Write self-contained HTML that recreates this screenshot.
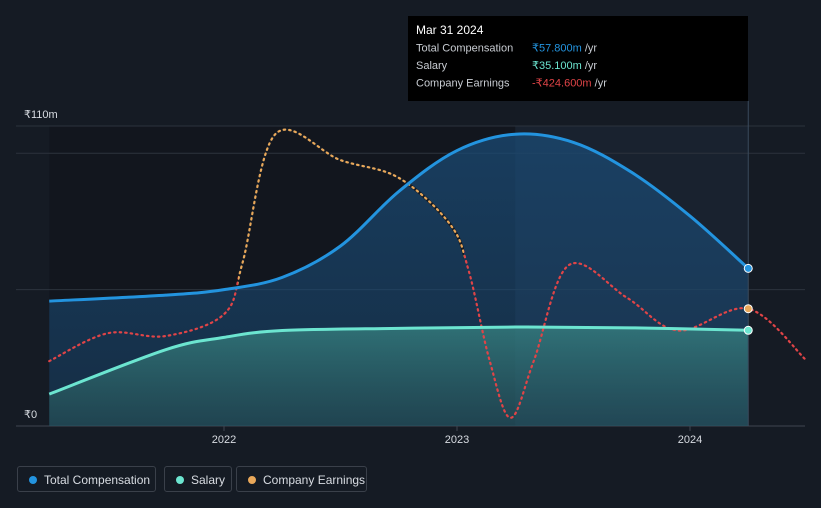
<!DOCTYPE html>
<html><head><meta charset="utf-8"><style>
body{margin:0;background:#151b24;font-family:"Liberation Sans",sans-serif;}
svg{display:block}
.leg{position:absolute;top:466px;height:26px;border:1px solid #3a404a;border-radius:3px;color:#d8dce2;font-size:12px;line-height:26px;box-sizing:border-box;padding-left:26px}
.leg i{position:absolute;left:11px;top:9px;width:8px;height:8px;border-radius:50%}
</style></head><body>
<div style="position:relative;width:821px;height:508px">
<svg id="c" width="821" height="508"></svg>
<div class="leg" style="left:17px;width:139px"><i style="background:#2394df"></i>Total Compensation</div>
<div class="leg" style="left:164px;width:68px"><i style="background:#6ce5d0"></i>Salary</div>
<div class="leg" style="left:236px;width:131px"><i style="background:#e9a85a"></i>Company Earnings</div>
</div>
<script>
const compT=[2021.25,2021.75,2022.0,2022.25,2022.5,2022.75,2023.0,2023.25,2023.5,2023.75,2024.0,2024.25];
const compV=[45.8,48,50,54.5,66,86,101,107,104,93,77,57.8];
const salT=[2021.25,2021.75,2022.0,2022.25,2022.75,2023.25,2023.75,2024.25];
const salV=[11.7,28,32.5,35,35.8,36.3,36,35.1];
const earnT=[2021.25,2021.5,2021.75,2022.0,2022.08,2022.22,2022.5,2022.75,2022.97,2023.05,2023.14,2023.23,2023.33,2023.48,2023.73,2023.95,2024.25,2024.5];
const earnV=[23.8,34,33,41,60,107,97.5,91,74,57,24,3,24,59,47,35,43,24];
const orangeRange=[2022.06,2023.03];
const yTicks=[0,110];const yTickLabels=["₹0","₹110m"];
const gridV=[0,50,100,110];
const xTicks=[2022,2023,2024];
const X=t=>224+(t-2022)*233, Y=v=>426-v*2.727;
const svg=document.getElementById('c'),NS='http://www.w3.org/2000/svg';
function el(n,a,p){const e=document.createElementNS(NS,n);for(const k in a)e.setAttribute(k,a[k]);(p||svg).appendChild(e);return e;}
function path(T,V){const P=T.map((t,i)=>[X(t),Y(V[i])]);let d='M'+P[0];for(let i=0;i<P.length-1;i++){const p0=P[i-1]||P[i],p1=P[i],p2=P[i+1],p3=P[i+2]||p2;const c1=[p1[0]+(p2[0]-p0[0])/6,p1[1]+(p2[1]-p0[1])/6],c2=[p2[0]-(p3[0]-p1[0])/6,p2[1]-(p3[1]-p1[1])/6];d+='C'+c1+' '+c2+' '+p2;}return d;}
const defs=el('defs',{});
defs.innerHTML='<linearGradient id="gc" x1="0" y1="0" x2="0" y2="1"><stop offset="0" stop-color="#1a4a74" stop-opacity=".75"/><stop offset="1" stop-color="#1a4a74" stop-opacity=".45"/></linearGradient><linearGradient id="gs" x1="0" y1="0" x2="0" y2="1"><stop offset="0" stop-color="#3a8a86" stop-opacity=".7"/><stop offset="1" stop-color="#2a5a5c" stop-opacity=".5"/></linearGradient><clipPath id="co"><rect x="'+X(orangeRange[0])+'" y="0" width="'+(X(orangeRange[1])-X(orangeRange[0]))+'" height="508"/></clipPath>';
el('rect',{x:X(2021.25),y:Y(110),width:X(2023.25)-X(2021.25),height:Y(0)-Y(110),fill:'#10141b',opacity:.6,});
el('rect',{x:X(2023.25),y:Y(110),width:X(2024.25)-X(2023.25),height:Y(0)-Y(110),fill:'#1d2a3a',opacity:.5,});
gridV.forEach(v=>{const g=el('line',{x1:16,x2:805,y1:Y(v),y2:Y(v),stroke:v==0?'#3e4550':'#2c333d','stroke-width':1});});
yTicks.forEach((v,i)=>{const t=el('text',{x:24,y:Y(v)-8,fill:'#d8dce2','font-size':11});t.textContent=yTickLabels[i];});
xTicks.forEach(v=>{el('line',{x1:X(v),x2:X(v),y1:426,y2:431,stroke:'#3e4550'});const t=el('text',{x:X(v),y:443,fill:'#d8dce2','font-size':11,'text-anchor':'middle'});t.textContent=v;});
const cp=path(compT,compV),sp=path(salT,salV),ep=path(earnT,earnV);
let a=el('path',{d:cp+'L'+X(2024.25)+','+Y(0)+'L'+X(2021.25)+','+Y(0)+'Z',fill:'url(#gc)'});
a=el('path',{d:sp+'L'+X(2024.25)+','+Y(0)+'L'+X(2021.25)+','+Y(0)+'Z',fill:'url(#gs)'});
let l=el('path',{d:ep,fill:'none',stroke:'#e04447','stroke-width':2.2,'stroke-dasharray':'1.5 4','stroke-linecap':'round'});
l=el('path',{d:ep,fill:'none',stroke:'#151b24','stroke-width':3,'clip-path':'url(#co)'});
l=el('path',{d:ep,fill:'none',stroke:'#e9a85a','stroke-width':2.2,'stroke-dasharray':'1.5 4','stroke-linecap':'round','clip-path':'url(#co)'});
l=el('path',{d:sp,fill:'none',stroke:'#6ce5d0','stroke-width':3});
l=el('path',{d:cp,fill:'none',stroke:'#2394df','stroke-width':3});
el('line',{x1:X(2024.25),x2:X(2024.25),y1:101,y2:426,stroke:'#3a4a5c'});
[[compV,'#2394df'],[salV,'#6ce5d0'],[[earnV[16]],'#e9a85a']].forEach(([v,c])=>{const d=el('circle',{cx:X(2024.25),cy:Y(v[v.length-1]),r:4,fill:c,stroke:'#fff','stroke-width':1});});
const g=el('g',{});
el('rect',{x:408,y:16,width:340,height:85,fill:'#000'},g);
const tt=[['Mar 31 2024','',''],['Total Compensation','₹57.800m','#2394df'],['Salary','₹35.100m','#6ce5d0'],['Company Earnings','-₹424.600m','#e04447']];
tt.forEach((r,i)=>{const y=34+i*17.5;const t=el('text',{x:416,y:y,fill:i?'#c8ccd2':'#fff','font-size':i?11:12},g);t.textContent=r[0];if(r[1]){const v=el('text',{x:532,y:y,fill:r[2],'font-size':11},g);v.textContent=r[1];const s=el('tspan',{fill:'#c8ccd2'},v);s.textContent=' /yr';}});
</script>
</body></html>
